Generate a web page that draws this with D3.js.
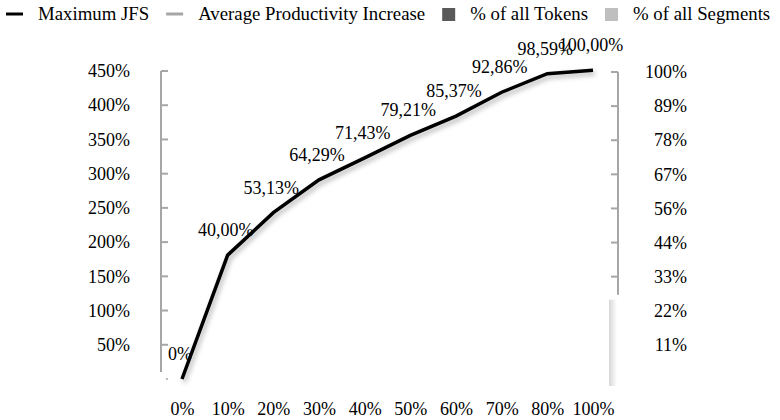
<!DOCTYPE html>
<html>
<head>
<meta charset="utf-8">
<script src="https://cdn.jsdelivr.net/npm/d3@7"></script>
<style>
  body { margin: 0; background: #fff; }
  svg { display: block; }
  svg text { font-family: "Liberation Serif", "Times New Roman", Times, serif; fill: #000; }
</style>
</head>
<body>
<svg id="chart" width="780" height="420"></svg>
<script>
// data
const categories = ['0%', '10%', '20%', '30%', '40%', '50%', '60%', '70%', '80%', '100%'];
const maxJFS = [0, 181, 243, 291, 323, 356, 384, 419, 446, 451];
const pointLabels = ['0%', '40,00%', '53,13%', '64,29%', '71,43%', '79,21%', '85,37%', '92,86%', '98,59%', '100,00%'];
const leftTicks = [50, 100, 150, 200, 250, 300, 350, 400, 450];
const rightTicks = [100 / 9, 200 / 9, 300 / 9, 400 / 9, 500 / 9, 600 / 9, 700 / 9, 800 / 9, 100];
const legendItems = [
  {name: 'Maximum JFS', type: 'line', color: '#000'},
  {name: 'Average Productivity Increase', type: 'line', color: '#a6a6a6'},
  {name: '% of all Tokens', type: 'rect', color: '#595959'},
  {name: '% of all Segments', type: 'rect', color: '#bfbfbf'}
];

const axisColor = '#a6a6a6';
const fontSize = 18;

const svg = d3.select('#chart');

const defs = svg.append('defs');
defs.append('filter')
    .attr('id', 'shadow')
    .attr('x', '-10%').attr('y', '-10%')
    .attr('width', '130%').attr('height', '130%')
  .append('feDropShadow')
    .attr('dx', 2).attr('dy', 3)
    .attr('stdDeviation', 2.5)
    .attr('flood-color', '#000')
    .attr('flood-opacity', 0.3);

let grad = defs.append('linearGradient')
    .attr('id', 'edge')
    .attr('x1', 0).attr('x2', 1).attr('y1', 0).attr('y2', 0);
grad.append('stop').attr('offset', '0%').attr('stop-color', '#d6d6d6');
grad.append('stop').attr('offset', '100%').attr('stop-color', '#fff');

let x = d3.scalePoint().domain(categories).range([182, 593]);
let yLeft = d3.scaleLinear().domain([0, 450]).range([379, 71]);
let yRight = d3.scaleLinear().domain([0, 100]).range([379, 72]);

const leftX = 161, rightX = 618;

// left axis
let left = svg.append('g').attr('transform', 'translate(' + leftX + ',0)');
left.append('line')
    .attr('y1', yLeft(450)).attr('y2', yLeft(0) - 7)
    .attr('stroke', axisColor).attr('stroke-width', 2);
left.selectAll('.tick-l')
    .data(leftTicks)
  .enter().append('line')
    .attr('class', 'tick-l')
    .attr('x1', 0).attr('x2', 7)
    .attr('y1', (d) => yLeft(d)).attr('y2', (d) => yLeft(d))
    .attr('stroke', axisColor).attr('stroke-width', 2);
left.append('line')
    .attr('x1', 5).attr('x2', 7)
    .attr('y1', yLeft(0)).attr('y2', yLeft(0))
    .attr('stroke', axisColor).attr('stroke-width', 1.5);

let leftLabels = svg.append('g')
    .attr('transform', 'translate(' + leftX + ',0)')
    .call(d3.axisLeft(yLeft).tickValues(leftTicks).tickSize(0).tickPadding(31)
      .tickFormat((d) => d + '%'));
leftLabels.select('.domain').remove();
leftLabels.attr('font-family', null).attr('font-size', fontSize);

// right axis (cut short near the bottom)
let cutY = yRight(300 / 9) + 18;
let right = svg.append('g').attr('transform', 'translate(' + rightX + ',0)');
right.append('line')
    .attr('y1', yRight(100)).attr('y2', cutY)
    .attr('stroke', axisColor).attr('stroke-width', 2);
right.selectAll('.tick-r')
    .data(rightTicks.filter((d) => yRight(d) < cutY))
  .enter().append('line')
    .attr('class', 'tick-r')
    .attr('x1', -7).attr('x2', 0)
    .attr('y1', (d) => yRight(d)).attr('y2', (d) => yRight(d))
    .attr('stroke', axisColor).attr('stroke-width', 2);

svg.append('rect')
    .attr('x', rightX - 9).attr('y', cutY + 5)
    .attr('width', 8).attr('height', yLeft(0) + 7 - cutY - 5)
    .attr('fill', 'url(#edge)');

let rightLabels = svg.append('g')
    .attr('transform', 'translate(' + rightX + ',0)')
    .call(d3.axisRight(yRight).tickValues(rightTicks).tickSize(0)
      .tickFormat((d) => Math.round(d) + '%'));
rightLabels.select('.domain').remove();
rightLabels.attr('font-family', null).attr('font-size', fontSize);
rightLabels.selectAll('text')
    .attr('x', 69).attr('text-anchor', 'end');

// x axis labels
let xAxis = svg.append('g')
    .attr('transform', 'translate(0,' + (yLeft(0) + 36) + ')')
    .call(d3.axisBottom(x).tickSize(0).tickPadding(0));
xAxis.select('.domain').remove();
xAxis.attr('font-family', null).attr('font-size', fontSize);
xAxis.selectAll('text')
    .attr('y', 0).attr('dy', 0);

// line
let line = d3.line()
    .x((d, i) => x(categories[i]))
    .y((d) => yLeft(d));

svg.append('path')
    .datum(maxJFS)
    .attr('d', line)
    .attr('fill', 'none')
    .attr('stroke', '#000')
    .attr('stroke-width', 3.5)
    .attr('filter', 'url(#shadow)');

svg.selectAll('.plabel')
    .data(maxJFS)
  .enter().append('text')
    .attr('class', 'plabel')
    .attr('x', (d, i) => x(categories[i]) - 2)
    .attr('y', (d) => yLeft(d) - 19)
    .attr('text-anchor', 'middle')
    .attr('font-size', fontSize)
    .text((d, i) => pointLabels[i]);

// legend
let legend = svg.append('g').attr('transform', 'translate(6,14)');
let cx = 0;
legendItems.forEach((item) => {
  let g = legend.append('g').attr('transform', 'translate(' + cx + ',0)');
  let mw;
  if (item.type === 'line') {
    mw = 17;
    g.append('line')
        .attr('x1', 0).attr('x2', mw)
        .attr('stroke', item.color).attr('stroke-width', 3);
  } else {
    mw = 13;
    g.append('rect')
        .attr('x', 0).attr('y', -6).attr('width', mw).attr('height', 13)
        .attr('fill', item.color);
  }
  let t = g.append('text')
      .attr('x', mw + 15).attr('y', 6)
      .attr('font-size', 18.8)
      .text(item.name);
  cx += mw + 15 + t.node().getComputedTextLength() + 17;
});
</script>
</body>
</html>
